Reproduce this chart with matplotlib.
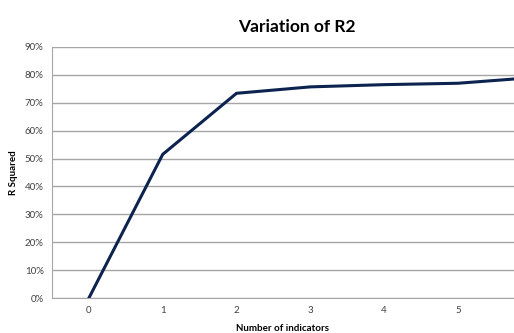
import matplotlib.pyplot as plt
from matplotlib.ticker import FuncFormatter

# data
indicators = [0, 1, 2, 3, 4, 5, 6]
r_squared = [0.0, 0.515, 0.734, 0.757, 0.765, 0.770, 0.790]
y_ticks = [i / 10 for i in range(10)]

plt.rcParams['font.family'] = ['Lato', 'DejaVu Sans']

fig = plt.figure(figsize=(5.14, 3.33), dpi=100)
ax = fig.add_axes([52 / 514, 35 / 333, 1 - 52 / 514, 251 / 333])

ax.plot(indicators, r_squared, color='#0c2350', lw=2.2, solid_joinstyle='miter', clip_on=True)

ax.set_xlim(-0.5, 5.76)
ax.set_ylim(0, 0.9)
ax.set_yticks(y_ticks)
ax.set_xticks(indicators[:6])
ax.yaxis.set_major_formatter(FuncFormatter(lambda v, p: f"{v * 100:.0f}%"))
ax.grid(axis='y', color='#a6a6a6', lw=1)
ax.set_axisbelow(True)
ax.tick_params(length=0, labelsize=7, colors='#404040', pad=6)

for s in ['top', 'right']:
    ax.spines[s].set_visible(False)
for s in ['left', 'bottom']:
    ax.spines[s].set_color('#a6a6a6')

ax.set_ylabel("R Squared", fontsize=7, fontweight='bold', labelpad=5)
ax.set_xlabel("Number of indicators", fontsize=7, fontweight='bold', labelpad=6)
fig.text(297 / 514, 1 - 27 / 333, "Variation of R2", fontsize=12.5, fontweight='bold',
         ha='center', va='center')

fig.savefig("out.png", dpi=100)
